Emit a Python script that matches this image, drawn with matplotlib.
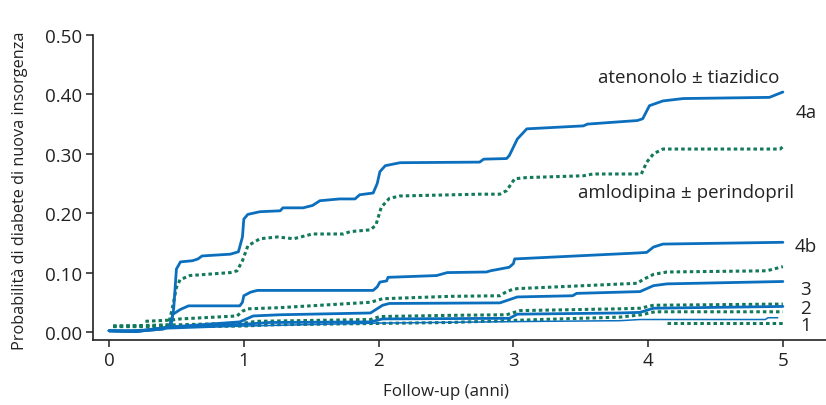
import matplotlib
matplotlib.use("Agg")
import matplotlib.pyplot as plt

plt.rcParams['font.family'] = ['Open Sans', 'DejaVu Sans']

BLUE = "#0b6fbd"
GREEN = "#13795b"

# atenonolo ± tiazidico (solid) / amlodipina ± perindopril (dotted)
aten_4a_x = [0, 0.2, 0.4, 0.46, 0.48, 0.50, 0.53, 0.62, 0.66, 0.69, 0.90, 0.96, 0.99, 1.00, 1.03, 1.12,
             1.27, 1.29, 1.44, 1.51, 1.565, 1.71, 1.825, 1.86, 1.96, 1.99, 2.01, 2.05, 2.16, 2.75, 2.78,
             2.95, 2.97, 3.03, 3.10, 3.52, 3.55, 3.92, 3.96, 4.01, 4.11, 4.26, 4.90, 5.0]
aten_4a_y = [0.002, 0.001, 0.005, 0.01, 0.04, 0.106, 0.118, 0.12, 0.123, 0.128, 0.131, 0.135, 0.16, 0.19,
             0.198, 0.2025, 0.204, 0.209, 0.209, 0.213, 0.221, 0.224, 0.224, 0.231, 0.234, 0.25, 0.27,
             0.28, 0.285, 0.286, 0.291, 0.292, 0.297, 0.325, 0.342, 0.347, 0.35, 0.356, 0.359, 0.381,
             0.389, 0.393, 0.395, 0.404]

amlo_4a_x = [0.03, 0.3, 0.44, 0.47, 0.50, 0.527, 0.6, 0.9, 0.95, 0.99, 1.03, 1.12, 1.25, 1.37, 1.51,
             1.74, 1.79, 1.94, 1.98, 2.02, 2.08, 2.16, 2.75, 2.9, 2.95, 3.01, 3.10, 3.52, 3.59, 3.95,
             3.99, 4.04, 4.11, 4.98, 5.0]
amlo_4a_y = [0.01, 0.01, 0.012, 0.04, 0.075, 0.088, 0.095, 0.1, 0.103, 0.12, 0.145, 0.157, 0.16, 0.157,
             0.165, 0.165, 0.169, 0.172, 0.18, 0.21, 0.225, 0.229, 0.232, 0.232, 0.238, 0.258, 0.26,
             0.263, 0.266, 0.266, 0.286, 0.30, 0.308, 0.308, 0.312]

aten_4b_x = [0, 0.2, 0.4, 0.45, 0.475, 0.53, 0.59, 0.97, 0.99, 1.0, 1.05, 1.1, 1.96, 1.99, 2.01, 2.06,
             2.07, 2.43, 2.51, 2.80, 2.83, 2.97, 3.0, 3.01, 3.92, 3.99, 4.04, 4.11, 5.0]
aten_4b_y = [0.002, 0.001, 0.005, 0.012, 0.03, 0.038, 0.044, 0.044, 0.05, 0.061, 0.067, 0.07, 0.07, 0.076,
             0.084, 0.086, 0.092, 0.095, 0.1, 0.101, 0.103, 0.109, 0.115, 0.123, 0.133, 0.134, 0.143,
             0.148, 0.151]

amlo_3_x = [0.27, 0.46, 0.53, 0.95, 0.99, 1.03, 1.27, 1.94, 2.03, 2.53, 2.90, 2.95, 3.0, 3.03, 3.92,
            3.96, 4.04, 4.14, 4.88, 5.0]
amlo_3_y = [0.018, 0.02, 0.022, 0.027, 0.035, 0.039, 0.041, 0.05, 0.056, 0.06, 0.061, 0.068, 0.072,
            0.073, 0.082, 0.088, 0.097, 0.101, 0.103, 0.11]

aten_3_x = [0, 0.2, 0.43, 0.97, 1.07, 1.27, 1.94, 2.03, 2.08, 2.9, 3.03, 3.44, 3.47, 3.94, 4.04, 4.14, 5.0]
aten_3_y = [0.002, 0.001, 0.008, 0.017, 0.027, 0.029, 0.032, 0.045, 0.048, 0.049, 0.059, 0.061, 0.065,
            0.068, 0.078, 0.081, 0.085]

amlo_2_x = [0.03, 0.5, 1.0, 1.1, 1.94, 2.01, 2.53, 2.95, 3.05, 3.79, 3.94, 4.04, 5.0]
amlo_2_y = [0.01, 0.012, 0.015, 0.018, 0.021, 0.026, 0.028, 0.029, 0.036, 0.039, 0.040, 0.045, 0.047]

aten_2_x = [0, 0.2, 0.45, 1.0, 1.19, 1.94, 2.03, 2.97, 3.03, 3.79, 3.94, 4.04, 5.0]
aten_2_y = [0.002, 0.001, 0.008, 0.013, 0.016, 0.017, 0.022, 0.023, 0.03, 0.032, 0.033, 0.040, 0.043]

amlo_1_x = [0.03, 0.5, 1.0, 1.19, 2.53, 3.2, 3.79, 3.95, 4.05, 5.0]
amlo_1_y = [0.009, 0.009, 0.01, 0.012, 0.016, 0.021, 0.025, 0.029, 0.034, 0.034]

amlo_1b_x = [4.14, 5.0]
amlo_1b_y = [0.015, 0.015]

aten_1_x = [0, 0.5, 1.0, 2.0, 3.25, 3.79, 3.94, 4.87, 4.89, 4.96]
aten_1_y = [0.002, 0.006, 0.01, 0.015, 0.018, 0.019, 0.021, 0.021, 0.024, 0.024]

x_ticks = [0, 1, 2, 3, 4, 5]
y_ticks = [0.0, 0.1, 0.2, 0.3, 0.4, 0.5]
y_ticklabels = ["0.00", "0.10", "0.20", "0.30", "0.40", "0.50"]

fig = plt.figure(figsize=(8.26, 4.06), dpi=100)
ax = fig.add_axes([93 / 826, 65 / 406, 733 / 826, 305 / 406])

dot = dict(color=GREEN, lw=2.2, ls=(0, (1.15, 1.0)), dash_capstyle="butt", solid_capstyle="butt")
solid = dict(color=BLUE, lw=2.0, solid_capstyle="round")

ax.plot(amlo_1_x, amlo_1_y, **dot)
ax.plot(amlo_1b_x, amlo_1b_y, **dot)
ax.plot(aten_1_x, aten_1_y, color=BLUE, lw=1.1)
ax.plot(amlo_2_x, amlo_2_y, **dot)
ax.plot(aten_2_x, aten_2_y, **solid)
ax.plot(amlo_3_x, amlo_3_y, **dot)
ax.plot(aten_3_x, aten_3_y, **solid)
ax.plot(aten_4b_x, aten_4b_y, **solid)
ax.plot(amlo_4a_x, amlo_4a_y, **dot)
ax.plot(aten_4a_x, aten_4a_y, **solid)

ax.set_xlim(-0.119, 5.32)
ax.set_ylim(-0.0135, 0.5)
ax.set_xticks(x_ticks)
ax.set_yticks(y_ticks)
ax.set_yticklabels(y_ticklabels)
ax.tick_params(labelsize=13.5, length=5, width=1.1, color="#222222", labelcolor="#222222", pad=3)
for s in ["top", "right"]:
    ax.spines[s].set_visible(False)
for s in ["left", "bottom"]:
    ax.spines[s].set_linewidth(1.2)
    ax.spines[s].set_color("#222222")

tc = "#222222"
ax.text(4.3, 0.43, "atenonolo ± tiazidico", fontsize=13.5, color=tc, ha="center", va="center")
ax.text(4.28, 0.236, "amlodipina ± perindopril", fontsize=13.5, color=tc, ha="center", va="center")
for lab, yy in [("4a", 0.37), ("4b", 0.145), ("3", 0.072), ("2", 0.04), ("1", 0.012)]:
    ax.text(5.17, yy, lab, fontsize=13.5, color=tc, ha="center", va="center")

fig.text(446 / 826, 1 - 392 / 406, "Follow-up (anni)", fontsize=12.2, color=tc, ha="center", va="center")
fig.text(20 / 826, 1 - 191 / 406, "Probabilità di diabete di nuova insorgenza", fontsize=11.7, color=tc,
         ha="center", va="center", rotation=90)

fig.savefig("out.png", dpi=100)
